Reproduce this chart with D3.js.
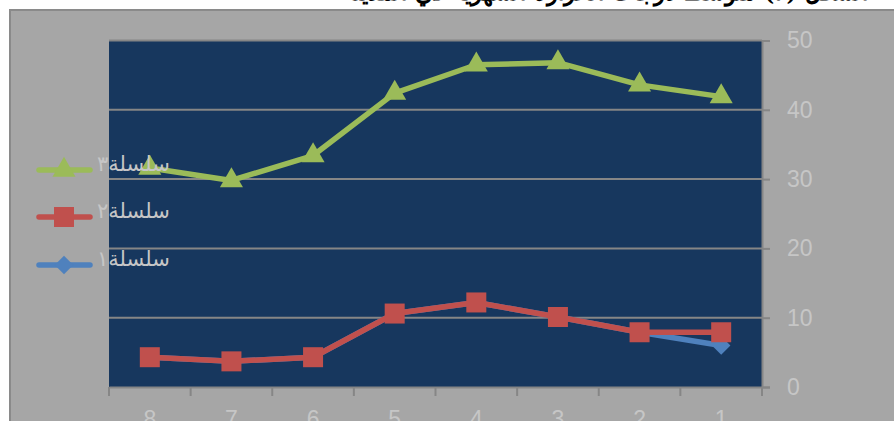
<!DOCTYPE html>
<html>
<head>
<meta charset="utf-8">
<script src="https://cdn.jsdelivr.net/npm/d3@7"></script>
<style>
  html, body { margin: 0; padding: 0; background: #ffffff; }
  svg { display: block; }
</style>
</head>
<body>
<svg id="chart" width="894" height="421"></svg>
<script>
// Categories along the horizontal axis (right-to-left order)
const categories = ["8", "7", "6", "5", "4", "3", "2", "1"];
// Series values
const series1 = [4.3, 3.7, 4.3, 10.6, 12.2, 10.1, 7.9, 6.0];
const series2 = [4.3, 3.7, 4.3, 10.6, 12.2, 10.1, 7.9, 7.9];
const series3 = [31.6, 29.8, 33.4, 42.4, 46.5, 46.8, 43.6, 41.9];
// Series names and value-axis ticks
const seriesNames = ["سلسلة١", "سلسلة٢", "سلسلة٣"];
const yTicks = [0, 10, 20, 30, 40, 50];
const titleText = "الشكل (٣) متوسط درجات الحرارة الشهرية في المدينة";

const svg = d3.select("#chart");
const W = 894, H = 421;
const plot = { left: 109, right: 762, top: 40.5, bottom: 387 };

const colors = { s1: "#4f81bd", s2: "#c0504d", s3: "#9bbb59" };
const textGray = "#c6c6c6";
const gridGray = "#868686";

// Title (only its lower edge falls inside the page)
svg.append("text")
  .attr("x", 868).attr("y", 0)
  .attr("text-anchor", "end")
  .attr("textLength", 525)
  .attr("lengthAdjust", "spacingAndGlyphs")
  .attr("font-family", "'DejaVu Serif', 'Liberation Serif', serif")
  .attr("font-weight", "bold")
  .attr("font-size", 26)
  .attr("fill", "#000")
  .text(titleText);

// Chart area background with frame
svg.append("rect")
  .attr("x", 10).attr("y", 10).attr("width", W - 8).attr("height", H)
  .attr("fill", "#a6a6a6").attr("stroke", "#8a8a8a").attr("stroke-width", 2);

// Scales
const x = d3.scaleBand().domain(categories).range([plot.left, plot.right]).padding(0);
const y = d3.scaleLinear().domain([0, 50]).range([plot.bottom, plot.top]);
const cx = c => x(c) + x.bandwidth() / 2;

// Plot area
svg.append("rect")
  .attr("x", plot.left).attr("y", plot.top)
  .attr("width", plot.right - plot.left).attr("height", plot.bottom - plot.top)
  .attr("fill", "#17375e");

// Horizontal gridlines
svg.append("g").selectAll("line").data(yTicks.filter(t => t > 0)).join("line")
  .attr("x1", plot.left).attr("x2", plot.right)
  .attr("y1", d => y(d)).attr("y2", d => y(d))
  .attr("stroke", gridGray).attr("stroke-width", 2);

// Right value axis
const yAxis = d3.axisRight(y).tickValues(yTicks).tickSize(8).tickPadding(17);
const gy = svg.append("g").attr("transform", `translate(${plot.right},0)`).call(yAxis);
gy.select(".domain").attr("stroke", gridGray).attr("stroke-width", 2);
gy.selectAll(".tick line").attr("stroke", gridGray).attr("stroke-width", 2);
gy.selectAll(".tick text")
  .attr("fill", textGray)
  .attr("font-family", "'Liberation Sans', Arial, sans-serif")
  .attr("font-size", 23);

// Bottom category axis with ticks on band boundaries
const xAxis = d3.axisBottom(x).tickSize(0).tickPadding(24).tickSizeOuter(0);
const gx = svg.append("g").attr("transform", `translate(0,${plot.bottom})`).call(xAxis);
gx.select(".domain").attr("stroke", gridGray).attr("stroke-width", 2);
gx.selectAll(".tick text")
  .attr("fill", textGray)
  .attr("font-family", "'Liberation Sans', Arial, sans-serif")
  .attr("font-size", 23);
const bounds = categories.map(c => x(c)).concat([plot.right]);
gx.append("g").selectAll("line").data(bounds).join("line")
  .attr("x1", d => d).attr("x2", d => d)
  .attr("y1", 0).attr("y2", 9)
  .attr("stroke", gridGray).attr("stroke-width", 2);

// Marker shapes
const diamond = {
  draw(ctx, size) {
    const r = Math.sqrt(size / 2);
    ctx.moveTo(0, -r); ctx.lineTo(r, 0); ctx.lineTo(0, r); ctx.lineTo(-r, 0); ctx.closePath();
  }
};
const sym = {
  s1: d3.symbol().type(diamond).size(170),
  s2: d3.symbol().type(d3.symbolSquare).size(400),
  s3: d3.symbol().type(d3.symbolTriangle).size(230)
};

const line = d3.line().x((d, i) => cx(categories[i])).y(d => y(d));

function drawSeries(values, key) {
  const g = svg.append("g");
  g.append("path").datum(values)
    .attr("d", line)
    .attr("fill", "none")
    .attr("stroke", colors[key])
    .attr("stroke-width", 5.5)
    .attr("stroke-linejoin", "round");
  g.selectAll("path.m").data(values).join("path")
    .attr("class", "m")
    .attr("d", sym[key])
    .attr("transform", (d, i) => `translate(${cx(categories[i])},${y(d)})`)
    .attr("fill", colors[key]);
}
drawSeries(series1, "s1");
drawSeries(series2, "s2");
drawSeries(series3, "s3");

// Legend (series 3 on top)
const legendRows = [
  { name: seriesNames[2], key: "s3", y: 170 },
  { name: seriesNames[1], key: "s2", y: 217 },
  { name: seriesNames[0], key: "s1", y: 265 }
];
const lg = svg.append("g");
legendRows.forEach(r => {
  lg.append("line")
    .attr("x1", 39).attr("x2", 90).attr("y1", r.y).attr("y2", r.y)
    .attr("stroke", colors[r.key]).attr("stroke-width", 5.5)
    .attr("stroke-linecap", "round");
  lg.append("path")
    .attr("d", sym[r.key])
    .attr("transform", `translate(64,${r.y})`)
    .attr("fill", colors[r.key]);
  lg.append("text")
    .attr("x", 97).attr("y", r.y + 1)
    .attr("direction", "rtl")
    .attr("text-anchor", "end")
    .attr("font-family", "'DejaVu Sans', sans-serif")
    .attr("font-size", 21)
    .attr("fill", textGray)
    .text(r.name);
});
</script>
</body>
</html>
